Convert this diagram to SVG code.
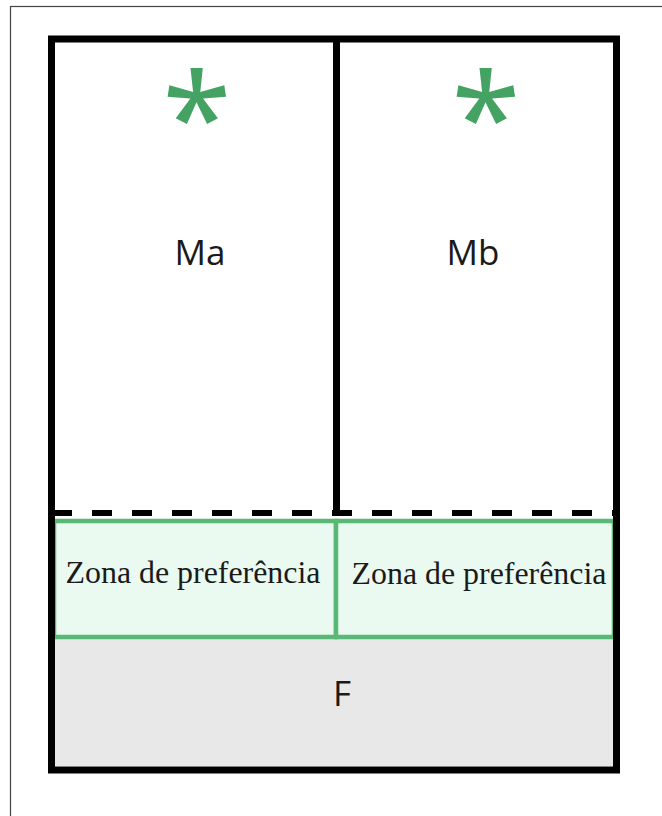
<svg xmlns="http://www.w3.org/2000/svg" width="662" height="816" viewBox="0 0 662 816">
<style>
.lbl{font-family:"Open Sans","Liberation Sans",sans-serif;font-size:35px;fill:#1a1a1a;text-anchor:middle}
.zone{font-family:"Liberation Serif","DejaVu Serif",serif;font-size:31px;fill:#1a1a1a;text-anchor:middle}
.ast{font-family:"Noto Sans","Open Sans",sans-serif;font-size:125px;fill:#44a263;text-anchor:middle}
.blk{stroke:#000;stroke-width:7;fill:none}
.gz{fill:#eafaf0;stroke:#58b976;stroke-width:4.5}
</style>
<rect x="0" y="0" width="662" height="816" fill="#fff"/>
<rect x="10.5" y="6.5" width="700" height="850" fill="none" stroke="#444" stroke-width="1.2"/>
<g id="F">
<rect x="55" y="637" width="558" height="129" fill="#e8e8e8"/>
<text class="lbl" x="342" y="706">F</text>
</g>
<g id="Ma">
<text class="ast" x="197" y="163">*</text>
<text class="lbl" x="200" y="265">Ma</text>
</g>
<g id="Mb">
<text class="ast" x="486" y="163">*</text>
<text class="lbl" x="473" y="265">Mb</text>
</g>
<g id="zona-a">
<rect class="gz" x="54" y="521" width="282" height="116"/>
<text class="zone" x="193" y="583" textLength="255" lengthAdjust="spacingAndGlyphs">Zona de preferência</text>
</g>
<g id="zona-b">
<rect class="gz" x="336" y="521" width="278" height="116"/>
<text class="zone" x="479" y="584" textLength="255" lengthAdjust="spacingAndGlyphs">Zona de preferência</text>
</g>
<g id="connectors">
<rect class="blk" x="51.5" y="39" width="565" height="731"/>
<line x1="336.5" y1="39" x2="336.5" y2="513" stroke="#000" stroke-width="7"/>
<line x1="52" y1="513" x2="615" y2="513" stroke="#000" stroke-width="6" stroke-dasharray="20 20"/>
</g>
</svg>
